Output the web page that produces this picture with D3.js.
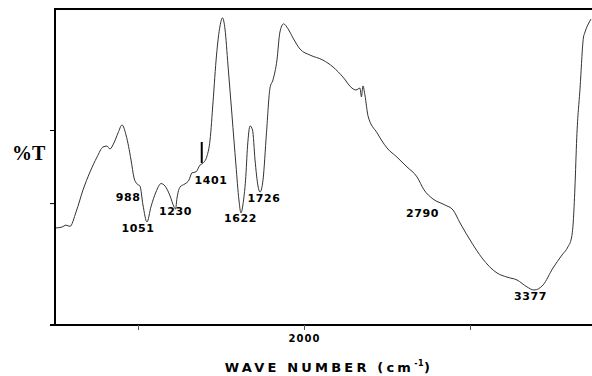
<!DOCTYPE html>
<html>
<head>
<meta charset="utf-8">
<script src="https://cdn.jsdelivr.net/npm/d3@7"></script>
<style>
  body { margin: 0; background: #fff; }
  svg { display: block; }
</style>
</head>
<body>
<div id="chart"></div>
<script>
// wave number (cm-1) and transmittance (%T)
const waveNumber = [
  506, 542, 566, 590, 627, 669, 711, 753, 789, 813, 831, 855, 880, 904, 928, 958,
  976, 994, 1012, 1030, 1054, 1078, 1108, 1139, 1163, 1193, 1217, 1226, 1235, 1253,
  1283, 1307, 1325, 1349, 1374, 1392, 1416, 1434, 1452, 1473, 1494, 1509, 1524, 1542,
  1566, 1590, 1608, 1620, 1636, 1648, 1660, 1675, 1690, 1705, 1723, 1735, 1753, 1774,
  1795, 1813, 1837, 1855, 1877, 1904, 1934, 1976, 2036, 2114, 2175, 2235, 2289, 2313,
  2337, 2346, 2355, 2367, 2386, 2440, 2500, 2560, 2620, 2681, 2723, 2777, 2849, 2898,
  2940, 3012, 3072, 3163, 3223, 3283, 3343, 3386, 3440, 3500, 3554, 3590, 3611, 3622,
  3632, 3643, 3663, 3683, 3693, 3719, 3729
];
const transmittance = [
  30.8, 31.1, 31.7, 31.3, 35.9, 42.9, 48.6, 53.3, 56.5, 56.8, 55.9, 57.8, 61.0, 63.5, 60.3, 52.4,
  46.7, 44.8, 44.1, 38.1, 32.7, 37.5, 42.2, 44.9, 44.1, 41.0, 37.5, 36.8, 40.3, 43.8,
  44.8, 46.0, 48.3, 48.6, 50.8, 51.4, 53.7, 58.7, 70.8, 85.7, 94.9, 97.5, 94.0, 82.5,
  66.7, 50.8, 39.7, 35.6, 39.7, 46.0, 56.8, 63.2, 61.9, 52.4, 44.1, 42.2, 46.0, 61.0,
  75.2, 77.8, 84.1, 93.0, 95.6, 94.0, 91.1, 87.6, 85.7, 84.1, 81.9, 78.7, 75.2, 74.6,
  75.2, 72.4, 75.9, 73.0, 66.3, 61.0, 56.2, 53.3, 50.2, 47.0, 42.9, 40.0, 38.1, 36.5,
  32.4, 26.0, 21.3, 16.5, 15.2, 14.3, 12.1, 11.1, 12.7, 18.1, 22.2, 24.8, 27.6, 32.7,
  43.5, 59.4, 75.2, 91.1, 93.0, 96.2, 97.1
];

// peak annotations: label text and where the label sits (wave number, %T)
const peakLabels = ["988", "1051", "1230", "1401", "1622", "1726", "2790", "3377"];
const peakLabelWn = [940, 1000, 1226, 1440, 1617, 1759, 2714, 3364];
const peakLabelT = [39.4, 29.5, 34.9, 44.9, 32.7, 39.0, 34.4, 7.9];

// short marker drawn above the 1401 band
const markerWn = 1384;
const markerT = [58.1, 51.4];

const xTicks = [1000, 2000, 3000];
const xTickLabels = { 2000: "2000" };
const yTicks = [0, 38.7, 61.9];

const width = 592;
const height = 376;
const plot = { left: 55, top: 10, bottom: 325 };
const labelFont = "DejaVu Sans, Verdana, sans-serif";

const svg = d3.select("#chart")
  .append("svg")
  .attr("width", width)
  .attr("height", height);

const xScale = d3.scaleLinear()
  .domain([500, 4000])
  .range([plot.left, plot.left + 3500 * 0.166]);

const yScale = d3.scaleLinear()
  .domain([0, 100])
  .range([plot.bottom, plot.top]);

// x axis
const xAxis = svg.append("g")
  .attr("transform", `translate(0, ${plot.bottom})`)
  .call(d3.axisBottom(xScale)
    .tickValues(xTicks)
    .tickSize(5)
    .tickFormat((d) => xTickLabels[d] || ""));
xAxis.select(".domain")
  .attr("d", `M${plot.left - 5},0H${width + 5}`)
  .attr("stroke", "#000")
  .attr("stroke-width", 2);
xAxis.selectAll(".tick line").attr("stroke", "#555");
xAxis.selectAll(".tick text")
  .attr("y", 14)
  .attr("dy", "0.32em")
  .attr("font-family", labelFont)
  .attr("font-weight", "bold")
  .attr("font-size", 10)
  .attr("letter-spacing", 1)
  .attr("fill", "#000");

// y axis
const yAxis = svg.append("g")
  .attr("transform", `translate(${plot.left}, 0)`)
  .call(d3.axisLeft(yScale)
    .tickValues(yTicks)
    .tickSize(5)
    .tickFormat(""));
yAxis.select(".domain")
  .attr("d", `M0,${plot.bottom}V${plot.top - 1}`)
  .attr("stroke", "#000")
  .attr("stroke-width", 2);
yAxis.selectAll(".tick line").attr("stroke", "#000");

// top frame line
svg.append("line")
  .attr("x1", plot.left - 1)
  .attr("x2", width)
  .attr("y1", plot.top - 1)
  .attr("y2", plot.top - 1)
  .attr("stroke", "#000")
  .attr("stroke-width", 2);

// spectrum
const points = waveNumber.map((w, i) => [w, transmittance[i]]);
const line = d3.line()
  .x((d) => xScale(d[0]))
  .y((d) => yScale(d[1]))
  .curve(d3.curveMonotoneX);

svg.append("path")
  .datum(points)
  .attr("d", line)
  .attr("fill", "none")
  .attr("stroke", "#333")
  .attr("stroke-width", 1);

// marker near 1401
svg.append("line")
  .attr("x1", xScale(markerWn))
  .attr("x2", xScale(markerWn))
  .attr("y1", yScale(markerT[0]))
  .attr("y2", yScale(markerT[1]))
  .attr("stroke", "#000")
  .attr("stroke-width", 2);

// peak labels
svg.selectAll(".peak-label")
  .data(peakLabels)
  .join("text")
  .attr("class", "peak-label")
  .attr("x", (d, i) => xScale(peakLabelWn[i]))
  .attr("y", (d, i) => yScale(peakLabelT[i]))
  .attr("text-anchor", "middle")
  .attr("font-family", labelFont)
  .attr("font-weight", "bold")
  .attr("font-size", 11)
  .attr("letter-spacing", 0.6)
  .attr("fill", "#000")
  .text((d) => d);

// axis titles
const xTitle = svg.append("text")
  .attr("x", 329)
  .attr("y", 372)
  .attr("text-anchor", "middle")
  .attr("font-family", labelFont)
  .attr("font-weight", "bold")
  .attr("font-size", 13)
  .attr("letter-spacing", 3.2)
  .attr("fill", "#000");
xTitle.append("tspan").text("WAVE NUMBER (cm");
xTitle.append("tspan")
  .attr("dy", -6)
  .attr("font-size", 8)
  .attr("letter-spacing", 0.5)
  .text("-1");
xTitle.append("tspan")
  .attr("dy", 6)
  .text(")");

svg.append("text")
  .attr("x", 12)
  .attr("y", 160)
  .attr("font-family", "Liberation Serif, Times New Roman, serif")
  .attr("font-weight", "bold")
  .attr("font-size", 20)
  .attr("fill", "#000")
  .text("%T");
</script>
</body>
</html>
